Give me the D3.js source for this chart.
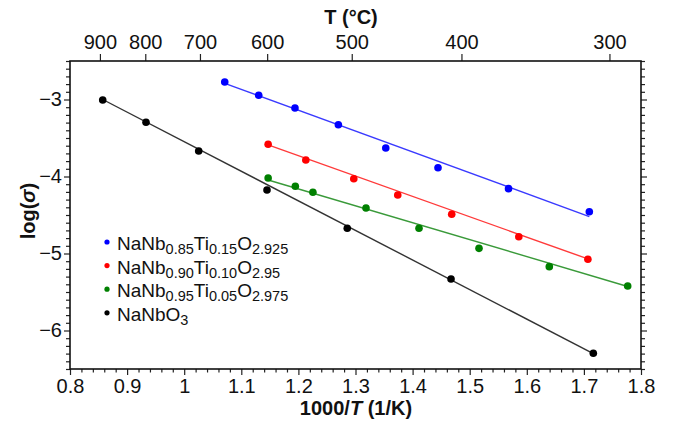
<!DOCTYPE html>
<html><head><meta charset="utf-8">
<script src="https://cdn.jsdelivr.net/npm/d3@7"></script>
<style>
body{margin:0;background:#fff;}
svg{display:block;font-family:"Liberation Sans",Arial,sans-serif;}
</style></head>
<body>
<svg id="c" width="673" height="428"></svg>
<script>
// ---- data ----
const xTicks = [0.8, 0.9, 1.0, 1.1, 1.2, 1.3, 1.4, 1.5, 1.6, 1.7, 1.8];
const xTickLabels = ["0.8","0.9","1","1.1","1.2","1.3","1.4","1.5","1.6","1.7","1.8"];
const yTicks = [-3, -4, -5, -6];
const topTicksC = [900, 800, 700, 600, 500, 400, 300];

const blueX = [1.071, 1.1305, 1.194, 1.270, 1.353, 1.4445, 1.568, 1.7095];
const blueY = [-2.773, -2.945, -3.110, -3.327, -3.630, -3.886, -4.158, -4.457];
const redX = [1.147, 1.213, 1.297, 1.374, 1.4685, 1.586, 1.707];
const redY = [-3.582, -3.786, -4.029, -4.240, -4.491, -4.782, -5.075];
const greenX = [1.147, 1.1946, 1.2254, 1.3184, 1.4112, 1.5163, 1.6394, 1.7767];
const greenY = [-4.019, -4.127, -4.205, -4.409, -4.673, -4.933, -5.171, -5.422];
const blackX = [0.8573, 0.9331, 1.0254, 1.145, 1.2856, 1.4673, 1.7165];
const blackY = [-3.006, -3.296, -3.669, -4.175, -4.673, -5.331, -6.296];

// fitted lines (end points)
const blueFitX = [1.071, 1.7095], blueFitY = [-2.79, -4.52];
const redFitX = [1.147, 1.707], redFitY = [-3.59, -5.07];
const greenFitX = [1.147, 1.7767], greenFitY = [-4.045, -5.428];
const blackFitX = [0.8573, 1.7165], blackFitY = [-3.0, -6.30];

const legendParts = [
  [["NaNb",0],["0.85",1],["Ti",0],["0.15",1],["O",0],["2.925",1]],
  [["NaNb",0],["0.90",1],["Ti",0],["0.10",1],["O",0],["2.95",1]],
  [["NaNb",0],["0.95",1],["Ti",0],["0.05",1],["O",0],["2.975",1]],
  [["NaNbO",0],["3",1]]
];

const series = [
  {x: blueX, y: blueY, fx: blueFitX, fy: blueFitY, dot: "#0000ff", line: "#3a3aff"},
  {x: redX, y: redY, fx: redFitX, fy: redFitY, dot: "#ff0000", line: "#ff3a3a"},
  {x: greenX, y: greenY, fx: greenFitX, fy: greenFitY, dot: "#008000", line: "#3a9a3a"},
  {x: blackX, y: blackY, fx: blackFitX, fy: blackFitY, dot: "#000000", line: "#333333"}
];

// ---- layout ----
const L = 70, R = 641, T = 61, B = 369;
const svg = d3.select("#c");
const x = d3.scaleLinear().domain([0.8, 1.8]).range([L, R]);
const y = d3.scaleLinear().domain([-6.5, -2.5]).range([B, T]);

const minorX = d3.range(0.8, 1.8001, 0.02).filter(v => Math.abs(v*10 - Math.round(v*10)) > 1e-6);
const minorY = d3.range(-6.5, -2.4999, 0.1).filter(v => Math.abs(v - Math.round(v)) > 1e-6);

const tickFont = "20px";

// bottom axis
const gB = svg.append("g").attr("transform", `translate(0,${B})`);
gB.call(d3.axisBottom(x).tickValues(xTicks).tickFormat((d,i)=>xTickLabels[i]).tickSize(6).tickPadding(4));
gB.append("g").call(d3.axisBottom(x).tickValues(minorX).tickFormat("").tickSize(3.5));
// left axis
const gL = svg.append("g").attr("transform", `translate(${L},0)`);
gL.call(d3.axisLeft(y).tickValues(yTicks).tickFormat(d => "\u2212" + Math.abs(d)).tickSize(6).tickPadding(2));
gL.append("g").call(d3.axisLeft(y).tickValues(minorY).tickFormat("").tickSize(4));
// right axis
const gR = svg.append("g").attr("transform", `translate(${R},0)`);
gR.call(d3.axisRight(y).tickValues(yTicks).tickFormat("").tickSize(6));
gR.append("g").call(d3.axisRight(y).tickValues(minorY).tickFormat("").tickSize(4));
// top axis (Celsius)
const gT = svg.append("g").attr("transform", `translate(0,${T})`);
gT.call(d3.axisTop(x).tickValues(topTicksC.map(c => 1000/(c+273.15))).tickFormat((d,i)=>topTicksC[i]).tickSize(7).tickPadding(5));

svg.selectAll(".domain").remove();
svg.selectAll(".tick line").attr("stroke", "#222").attr("stroke-width", 1.2);
svg.selectAll(".tick text").attr("font-size", tickFont).attr("fill", "#111")
  .attr("font-family", '"Liberation Sans",Arial,sans-serif');

// frame
svg.append("rect").attr("x", L).attr("y", T).attr("width", R-L).attr("height", B-T)
  .attr("fill", "none").attr("stroke", "#111").attr("stroke-width", 1.6);

// fit lines
const line = d3.line().x(d => x(d[0])).y(d => y(d[1]));
series.forEach(s => {
  svg.append("path").datum(s.fx.map((v,i)=>[v, s.fy[i]]))
    .attr("d", line).attr("fill", "none").attr("stroke", s.line).attr("stroke-width", 1.4);
});
// points
series.forEach(s => {
  svg.append("g").selectAll("circle").data(s.x.map((v,i)=>[v, s.y[i]])).join("circle")
    .attr("cx", d => x(d[0])).attr("cy", d => y(d[1])).attr("r", 3.8).attr("fill", s.dot);
});

// legend
const legX = 107, legBase = 250, legStep = 23.6;
legendParts.forEach((parts, i) => {
  const by = legBase + i*legStep;
  svg.append("circle").attr("cx", legX).attr("cy", by - 8).attr("r", 2.6).attr("fill", series[i].dot);
  const t = svg.append("text").attr("x", legX + 10).attr("y", by).attr("font-size", "19px").attr("fill", "#111");
  parts.forEach(([txt, sub]) => {
    const ts = t.append("tspan").text(txt);
    if (sub) ts.attr("font-size", "14.5px").attr("dy", 4);
    else ts.attr("dy", 0);
  });
  // reset baselines: apply explicit y for each tspan
  t.selectAll("tspan").attr("dy", null).attr("y", function(){ return d3.select(this).attr("font-size") ? by + 4 : by; });
});

// axis titles
const xt = svg.append("text").attr("x", 356).attr("y", 415).attr("text-anchor", "middle")
  .attr("font-size", "20px").attr("font-weight", "bold").attr("fill", "#111");
xt.append("tspan").text("1000/");
xt.append("tspan").text("T").attr("font-style", "italic");
xt.append("tspan").text(" (1/K)");

svg.append("text").attr("x", 351).attr("y", 24).attr("text-anchor", "middle")
  .attr("font-size", "20px").attr("font-weight", "bold").attr("fill", "#111").text("T (\u00B0C)");

const yt = svg.append("text").attr("transform", "translate(35,211) rotate(-90)").attr("text-anchor", "middle")
  .attr("font-size", "20px").attr("font-weight", "bold").attr("fill", "#111");
yt.append("tspan").text("log(");
yt.append("tspan").text("\u03C3").attr("font-style", "italic");
yt.append("tspan").text(")");
</script>
</body></html>
